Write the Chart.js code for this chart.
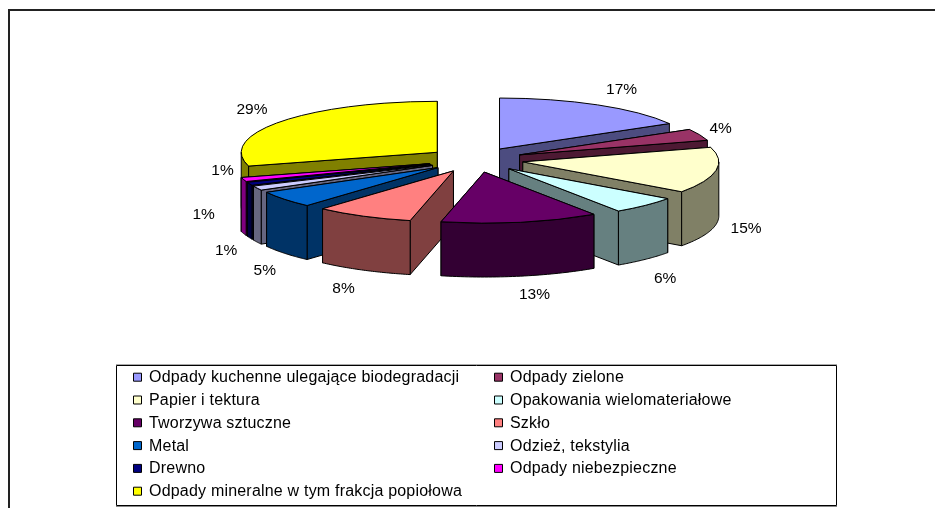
<!DOCTYPE html>
<html><head><meta charset="utf-8">
<style>html,body{margin:0;padding:0;background:#fff}canvas{display:block}</style>
<script src="https://cdn.jsdelivr.net/npm/chart.js@4"></script>
</head><body><canvas id="c" width="935" height="508"></canvas>
<script>
const categories = ["Odpady kuchenne ulegające biodegradacji","Odpady zielone","Papier i tektura","Opakowania wielomateriałowe","Tworzywa sztuczne","Szkło","Metal","Odzież, tekstylia","Drewno","Odpady niebezpieczne","Odpady mineralne w tym frakcja popiołowa"];
const values = [16.7,3.7,14.6,5.6,13.0,8.1,5.3,1.4,1.0,1.3,29.4];
const faceColors = ["#9999FF","#993366","#FFFFCC","#CCFFFF","#660066","#FF8080","#0066CC","#CCCCFF","#000080","#FF00FF","#FFFF00"];
const wallColors = ["#4C4C80","#4D1933","#808066","#668080","#330033","#804040","#003366","#666680","#000040","#800080","#808000"];
const labelNudges = [[24,-15],[21,-6],[30,58],[20,73],[14,73],[-20,73],[-20,71],[-31,63],[-46,31],[-21,-9],[-29,-12]];

const TILT = 0.26, DEPTH = 54, EXPLODE = 48;
const FONT = '15.5px "Liberation Sans", Arial, sans-serif';
const LEGEND_FONT = '16px "Liberation Sans", Arial, sans-serif';

function geom(a){
  const m=(a.startAngle+a.endAngle)/2;
  const ox=a.x+Math.cos(m)*EXPLODE, oy=a.y+Math.sin(m)*EXPLODE*TILT, R=a.outerRadius;
  return {m,ox,oy,R,s:a.startAngle,e:a.endAngle,
    pt:t=>[ox+R*Math.cos(t),oy+TILT*R*Math.sin(t)]};
}
function oyMean(g,a0,a1){let s=0;for(let i=0;i<=10;i++)s+=g.pt(a0+(a1-a0)*i/10)[1];return s/11;}
function drawWalls(ctx,g,color){
  const edge=t=>{const p=g.pt(t);return {p,y:(p[1]+g.oy)/2,kind:'r'}};
  const list=[edge(g.s),edge(g.e)];
  const a0=Math.max(g.s,0),a1=Math.min(g.e,Math.PI);
  if(a1>a0){list.push({kind:'c',a0,a1,y:oyMean(g,a0,a1)});}
  list.sort((u,v)=>u.y-v.y);
  ctx.fillStyle=color;ctx.strokeStyle='#000';ctx.lineWidth=1;ctx.lineJoin='round';
  for(const w of list){
    ctx.beginPath();
    if(w.kind==='r'){
      ctx.moveTo(g.ox,g.oy);ctx.lineTo(w.p[0],w.p[1]);
      ctx.lineTo(w.p[0],w.p[1]+DEPTH);ctx.lineTo(g.ox,g.oy+DEPTH);ctx.closePath();
    }else{
      const steps=40;
      for(let i=0;i<=steps;i++){const p=g.pt(w.a0+(w.a1-w.a0)*i/steps);i?ctx.lineTo(p[0],p[1]):ctx.moveTo(p[0],p[1]);}
      for(let i=steps;i>=0;i--){const p=g.pt(w.a0+(w.a1-w.a0)*i/steps);ctx.lineTo(p[0],p[1]+DEPTH);}
      ctx.closePath();
    }
    ctx.fill();ctx.stroke();
  }
}

const pie3d={
  id:'pie3d',
  beforeDraw(chart){
    const ctx=chart.ctx;ctx.save();
    ctx.fillStyle='#222';ctx.fillRect(8,9,927,2);ctx.fillRect(8,9,2,499);
    ctx.restore();
  },
  beforeDatasetDraw(chart,args){
    const ctx=chart.ctx,arcs=args.meta.data;
    const order=arcs.map((a,i)=>i).sort((i,j)=>{
      const mi=(arcs[i].startAngle+arcs[i].endAngle)/2,mj=(arcs[j].startAngle+arcs[j].endAngle)/2;
      return Math.sin(mi)-Math.sin(mj);
    });
    for(const i of order){
      const a=arcs[i],g=geom(a);
      drawWalls(ctx,g,wallColors[i]);
      ctx.save();
      ctx.translate(a.x,a.y);ctx.scale(1,TILT);
      ctx.translate(Math.cos(g.m)*EXPLODE,Math.sin(g.m)*EXPLODE);
      ctx.translate(-a.x,-a.y);
      a.draw(ctx);
      ctx.restore();
      ctx.save();
      ctx.translate(a.x,a.y);ctx.scale(1,TILT);
      ctx.translate(Math.cos(g.m)*EXPLODE,Math.sin(g.m)*EXPLODE);
      ctx.beginPath();ctx.moveTo(0,0);ctx.arc(0,0,g.R,g.s,g.e);ctx.closePath();
      ctx.restore();
      ctx.strokeStyle='#000';ctx.lineWidth=1;ctx.stroke();
    }
    return false;
  },
  afterDraw(chart){
    const ctx=chart.ctx,arcs=chart.getDatasetMeta(0).data;
    const total=values.reduce((p,v)=>p+v,0);
    ctx.save();
    ctx.font=FONT;ctx.fillStyle='#000';ctx.textAlign='center';ctx.textBaseline='middle';
    arcs.forEach((a,i)=>{
      const g=geom(a),r=g.R+EXPLODE;
      const x=a.x+r*Math.cos(g.m)+labelNudges[i][0];
      const y=a.y+TILT*r*Math.sin(g.m)+labelNudges[i][1];
      ctx.fillText(Math.round(values[i]/total*100)+'%',x,y);
    });
    // legend
    ctx.fillStyle='#aaa';ctx.fillRect(116,364,721,1);
    ctx.fillStyle='#888';ctx.fillRect(116,506,721,1);
    ctx.strokeStyle='#000';ctx.lineWidth=1;ctx.strokeRect(116.5,365.5,720,140);
    ctx.textAlign='left';ctx.font=LEGEND_FONT;ctx.letterSpacing='0.2px';
    categories.forEach((t,i)=>{
      const row=Math.floor(i/2),col=i%2;
      const y=377.7+row*22.8;
      const sx=col?494:133,tx=col?510:149;
      ctx.fillStyle=faceColors[i];ctx.fillRect(sx+.5,y-4.5,8,8);
      ctx.strokeStyle='#000';ctx.strokeRect(sx+.5,y-4.5,8,8);
      ctx.fillStyle='#000';ctx.fillText(t,tx,y);
    });
    ctx.restore();
  }
};
new Chart(document.getElementById('c'),{
  type:'pie',
  data:{labels:categories,datasets:[{data:values,backgroundColor:faceColors,borderWidth:0}]},
  options:{
    responsive:false,animation:false,radius:196,
    layout:{padding:{left:16,right:0,top:0,bottom:188.4}},
    plugins:{legend:{display:false},tooltip:{enabled:false},title:{display:false}}
  },
  plugins:[pie3d]
});
</script></body></html>
